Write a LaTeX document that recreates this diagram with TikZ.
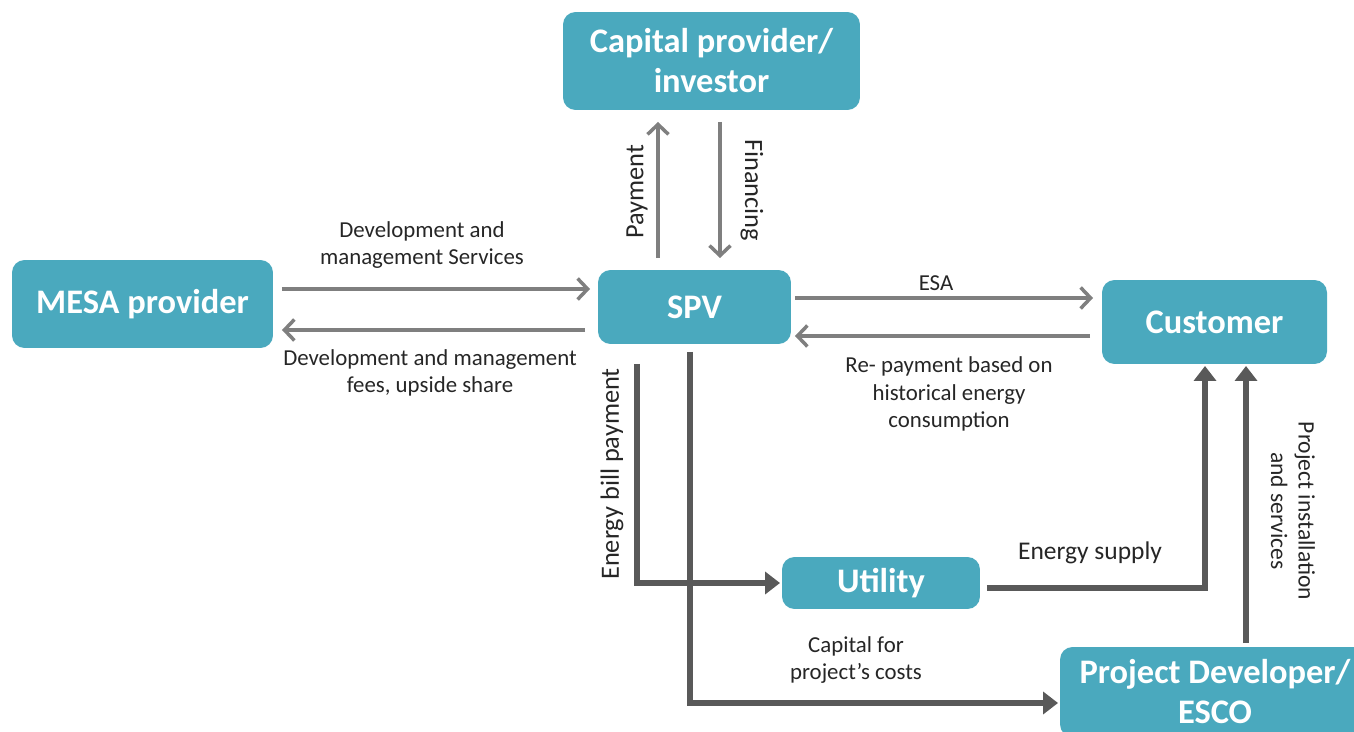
\documentclass[tikz,border=0pt]{standalone}
\usepackage{fontspec}
\setmainfont{Carlito}
\usetikzlibrary{arrows.meta}
\definecolor{boxteal}{HTML}{4AA9BE}
\definecolor{flowgray}{HTML}{7F7F7F}
\definecolor{flowdark}{HTML}{595959}

\begin{document}
\begin{tikzpicture}[x=0.02cm,y=-0.02cm,
  party/.style={fill=boxteal,rounded corners=0.25cm,text=white,inner sep=0pt,outer sep=0pt,
    font=\fontsize{19.6}{22.8}\selectfont\bfseries,align=center},
  deal/.style={draw=flowgray,line width=2pt,-{Straight Barb[length=0.2cm,width=0.42cm]}},
  cash/.style={draw=flowdark,line width=3.4pt,-{Triangle[length=0.3cm,width=0.44cm]}},
  lbl/.style={font=\fontsize{13}{15.6}\selectfont,align=center,text=black!85,inner sep=0pt},
  biglbl/.style={lbl,font=\fontsize{15}{18}\selectfont}]

  \clip (0,0) rectangle (1354,732);

  \node[party,minimum width=5.94cm,minimum height=1.96cm] (cap) at (711.5,61) {Capital provider/\\investor};
  \node[party,minimum width=5.22cm,minimum height=1.76cm] (mesa) at (142.5,304) {MESA provider};
  \node[party,minimum width=3.86cm,minimum height=1.48cm] (spv) at (694.5,307) {SPV};
  \node[party,minimum width=4.5cm,minimum height=1.68cm] (cust) at (1214.5,322) {Customer};
  \node[party,minimum width=3.96cm,minimum height=1.04cm] (util) at (881,583) {Utility};
  \node[party,minimum width=6.2cm,minimum height=1.8cm] (esco) at (1215,692) {Project Developer/\\ESCO};

  \draw[deal,shorten <=0.24cm,shorten >=0.24cm] (658,0 |- spv.north) -- (658,0 |- cap.south);
  \draw[deal,shorten <=0.24cm,shorten >=0.24cm] (720,0 |- cap.south) -- (720,0 |- spv.north);
  \draw[deal,shorten <=0.18cm,shorten >=0.16cm] (mesa.east |- 0,289) -- (spv.west |- 0,289);
  \draw[deal,shorten <=0.26cm,shorten >=0.18cm] (spv.west |- 0,330) -- (mesa.east |- 0,330);
  \draw[deal,shorten <=0.08cm,shorten >=0.18cm] (spv.east |- 0,298) -- (cust.west |- 0,298);
  \draw[deal,shorten <=0.24cm,shorten >=0.08cm] (cust.west |- 0,336) -- (spv.east |- 0,336);

  \draw[cash,shorten <=0.4cm,shorten >=0.04cm] (637,0 |- spv.south) -- (637,0 |- util.west) -- (util.west);
  \draw[cash,shorten <=0.16cm,shorten >=0.04cm] (690,0 |- spv.south) -- (690,703) -- (esco.west |- 0,703);
  \draw[cash,shorten <=0.14cm,shorten >=0.04cm] (util.east |- 0,588) -- (1205,588) -- (1205,0 |- cust.south);
  \draw[cash,shorten <=0.08cm,shorten >=0.04cm] (1246,0 |- esco.north) -- (1246,0 |- cust.south);

  \node[biglbl,rotate=90] (payl) at (637,192) {Payment};
  \node[biglbl,rotate=-90] (finl) at (752,190) {Financing};
  \node[lbl] (devl) at (422,245) {Development and\\management Services};
  \node[lbl] (feel) at (430,373) {Development and management\\fees, upside share};
  \node[lbl] (esal) at (936,283) {ESA};
  \node[lbl] (repl) at (949,394) {Re- payment based on\\historical energy\\consumption};
  \node[biglbl,rotate=90] (billl) at (612,474) {Energy bill payment};
  \node[lbl] (capl) at (856,660) {Capital for\\project’s costs};
  \node[lbl,font=\fontsize{14.5}{17}\selectfont] (supl) at (1090,553) {Energy supply};
  \node[lbl,rotate=-90,font=\fontsize{13.4}{15.6}\selectfont] (instl) at (1293,511) {Project installation\\and services};
\end{tikzpicture}
\end{document}
